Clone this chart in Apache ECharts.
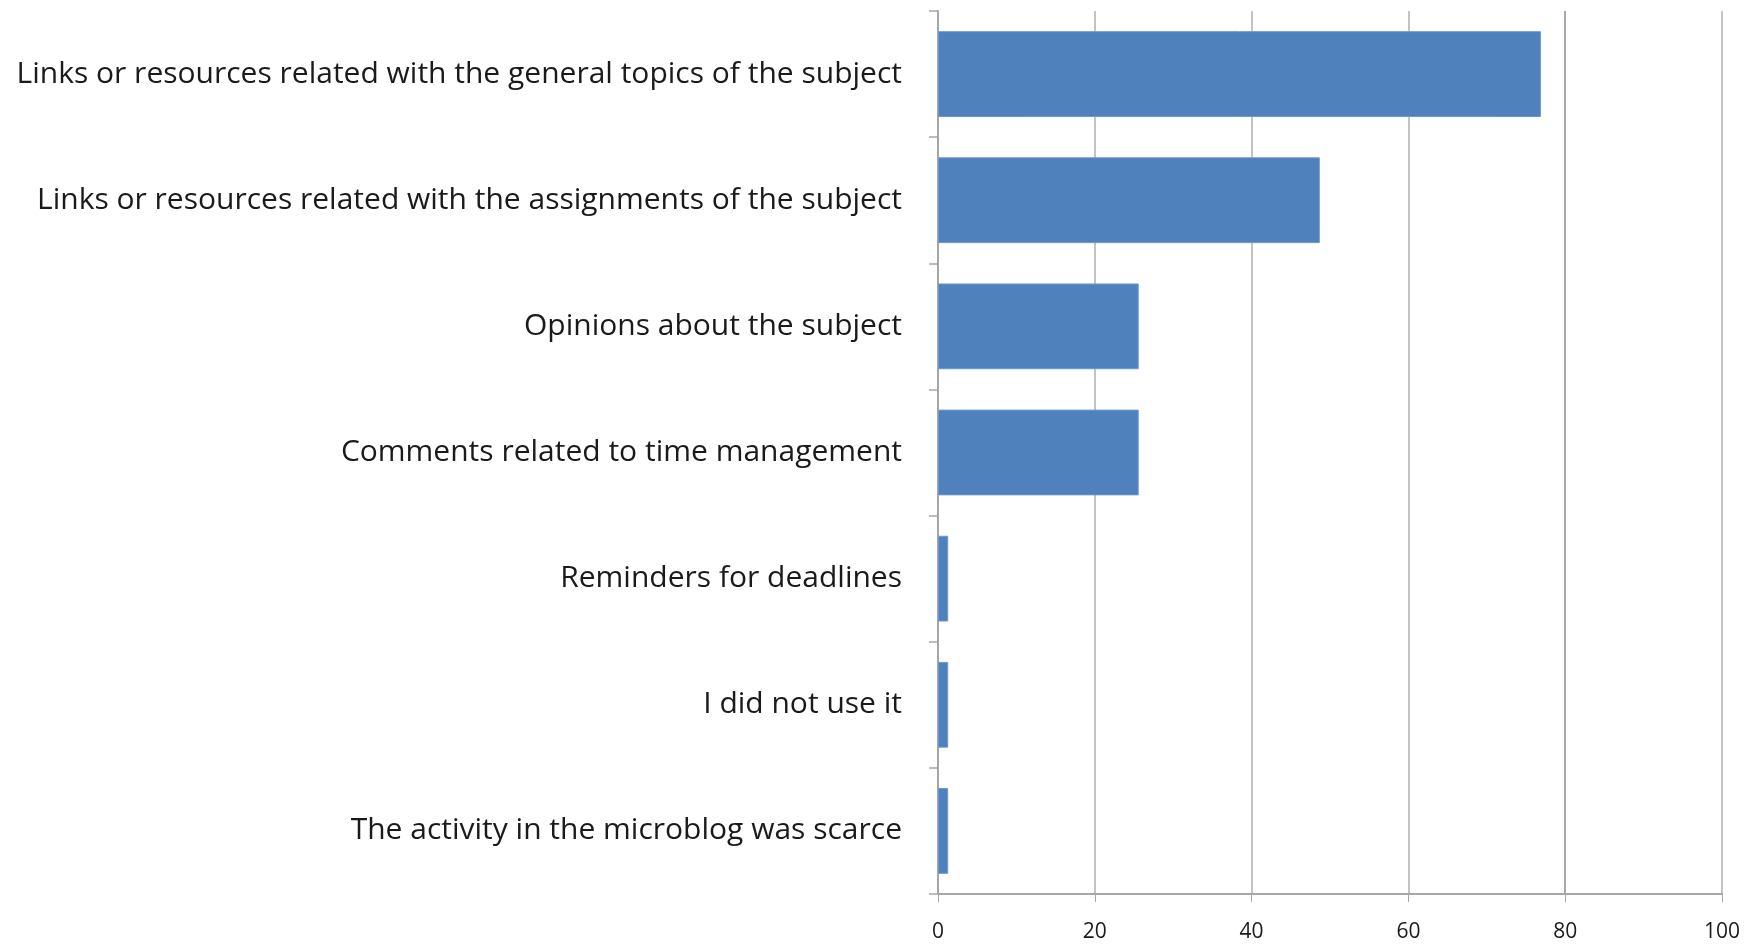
<!DOCTYPE html>
<html>
<head>
<meta charset="utf-8">
<script src="https://cdn.jsdelivr.net/npm/echarts@6/dist/echarts.min.js"></script>
<style>
  html, body { margin: 0; padding: 0; background: #fff; }
  #chart { width: 1751px; height: 944px; }
</style>
</head>
<body>
<div id="chart"></div>
<script>
// answers, listed bottom to top as the category axis draws them
const categories = [
  'The activity in the microblog was scarce',
  'I did not use it',
  'Reminders for deadlines',
  'Comments related to time management',
  'Opinions about the subject',
  'Links or resources related with the assignments of the subject',
  'Links or resources related with the general topics of the subject'
]
const values = [1.3, 1.3, 1.3, 25.6, 25.6, 48.7, 76.9]
const xTicks = [0, 20, 40, 60, 80, 100]

const chart = echarts.init(document.getElementById('chart'))

const option = {
  animation: false,
  grid: {
    left: 938,
    right: 29,
    top: 11,
    bottom: 50
  },
  xAxis: {
    type: 'value',
    min: xTicks[0],
    max: xTicks[xTicks.length - 1],
    interval: 20,
    axisLine: { show: true, lineStyle: { color: '#a6a6a6', width: 2 } },
    axisTick: { show: true, length: 8, lineStyle: { color: '#a6a6a6', width: 1 } },
    axisLabel: {
      margin: 28,
      fontFamily: 'Open Sans',
      fontSize: 21,
      color: '#1a1a1a'
    },
    splitLine: {
      show: true,
      lineStyle: {
        color: ['#b0b0b0', '#b0b0b0', '#b0b0b0', '#b0b0b0', '#8c8c8c', '#b0b0b0'],
        width: 1.5
      }
    }
  },
  yAxis: {
    type: 'category',
    data: categories,
    axisLine: { show: true, lineStyle: { color: '#a6a6a6', width: 2 } },
    axisTick: { show: true, length: 9, lineStyle: { color: '#a6a6a6', width: 1.5 } },
    axisLabel: {
      margin: 36,
      fontFamily: 'Open Sans',
      fontSize: 30,
      color: '#1a1a1a'
    }
  },
  series: [{
    type: 'bar',
    data: values,
    barCategoryGap: '32%',
    itemStyle: {
      color: '#4f81bd',
      borderColor: '#6f97cb',
      borderWidth: 1
    }
  }]
}

chart.setOption(option)
</script>
</body>
</html>
